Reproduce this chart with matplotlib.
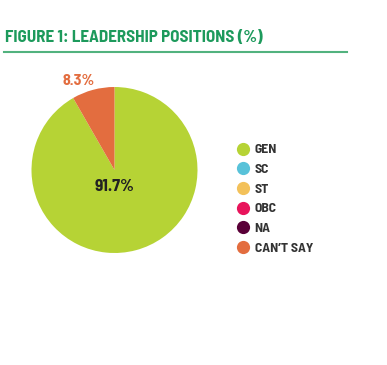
import matplotlib
matplotlib.use('Agg')
import matplotlib.pyplot as plt
from matplotlib.lines import Line2D

categories = ['GEN', 'SC', 'ST', 'OBC', 'NA', 'CAN\u2019T SAY']
values = [91.7, 0, 0, 0, 0, 8.3]
colors = ['#b6d335', '#58c2d9', '#f3c15a', '#e8145b', '#5a0038', '#e36d3f']

plt.rcParams['font.family'] = ['Barlow Semi Condensed', 'DejaVu Sans']
plt.rcParams['font.weight'] = 'bold'

W, H = 387, 365
fig = plt.figure(figsize=(W / 100, H / 100), dpi=100, facecolor='white')

# title and rule
fig.text(5 / W, 1 - 37 / H, 'FIGURE 1: LEADERSHIP POSITIONS (%)', color='#1d9a5c',
         fontsize=12.3, fontweight='bold', ha='left', va='center')
fig.add_artist(Line2D([4 / W, 347 / W], [1 - 52 / H, 1 - 52 / H], color='#52b27e', linewidth=1.5))

# pie
cx, cy, r = 114.5, 170, 83
ax = fig.add_axes([(cx - r) / W, 1 - (cy + r) / H, 2 * r / W, 2 * r / H])
wedges, _ = ax.pie(values, colors=colors, startangle=90, counterclock=False,
                   wedgeprops=dict(linewidth=0))
ax.set_xlim(-1, 1)
ax.set_ylim(-1, 1)
ax.set_aspect('equal')
ax.axis('off')

ax.text(0, -0.2, '91.7%', ha='center', va='center', fontsize=12.5, fontweight='bold', color='#222222')
ax.text(-0.43, 1.07, '8.3%', ha='center', va='center', fontsize=11.5, fontweight='bold',
        color='#e36d3f', clip_on=False)

handles = [Line2D([], [], marker='o', linestyle='', markersize=9.5, markerfacecolor=c,
                  markeredgewidth=0) for c in colors]
leg = fig.legend(handles, categories, loc='upper left', bbox_to_anchor=(228 / W, 1 - 137 / H),
                 frameon=False, fontsize=9.8, labelspacing=0.6, handletextpad=0.25,
                 handlelength=1.2, borderpad=0, labelcolor='#333333')

fig.savefig('out.png', dpi=100, facecolor='white')
